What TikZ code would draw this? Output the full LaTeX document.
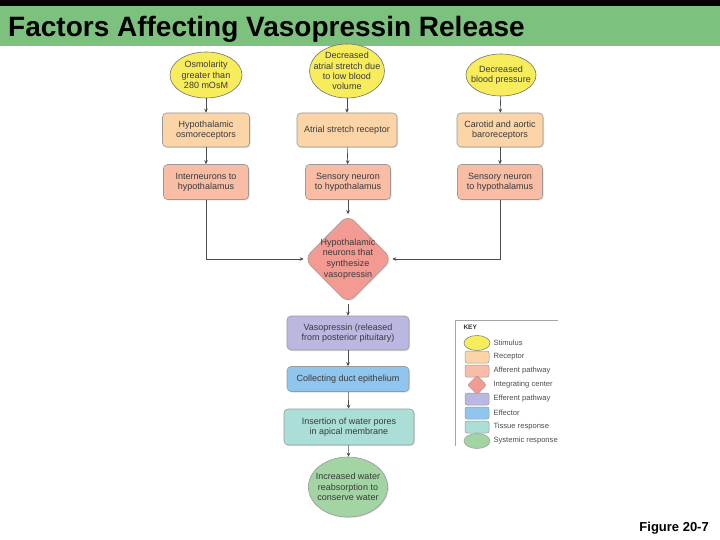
\documentclass[tikz,border=0pt]{standalone}
\usepackage{fontspec}
\setmainfont{Liberation Sans}
\usetikzlibrary{positioning,shapes.geometric,shadows,arrows.meta}

\definecolor{titlegreen}{HTML}{7DC17E}
\definecolor{stimcol}{HTML}{F6EC5C}
\definecolor{reccol}{HTML}{FBD5A8}
\definecolor{affcol}{HTML}{F8BDA4}
\definecolor{intcol}{HTML}{F39A93}
\definecolor{effpcol}{HTML}{BAB8E0}
\definecolor{effcol}{HTML}{90C5EE}
\definecolor{tisscol}{HTML}{AADED6}
\definecolor{syscol}{HTML}{A2D4A4}
\definecolor{txtcol}{HTML}{3A3A3A}

\begin{document}
\begin{tikzpicture}[x=1pt, y=-1pt, >={Stealth[length=4pt, width=3.6pt]},
    lbl/.style={font=\fontsize{9}{10.3}\selectfont, text=txtcol, align=center},
    stim/.style={ellipse, draw=black!55, line width=0.6pt, fill=stimcol, inner sep=0pt, lbl},
    box/.style={rectangle, rounded corners=4pt, draw=black!40, line width=0.6pt, inner sep=0pt, lbl,
        drop shadow={opacity=0.25, shadow xshift=1pt, shadow yshift=-1pt}},
    link/.style={->, draw=black!70, line width=0.6pt},
    keytxt/.style={anchor=west, font=\fontsize{7.6}{9}\selectfont, text=black!70},
    keyicon/.style={draw=black!40, line width=0.5pt, rounded corners=2pt, minimum width=24pt, minimum height=12pt, inner sep=0pt}]
    \useasboundingbox (0,0) rectangle (720,540);

    % Title bar
    \fill[black] (0,0) rectangle (720,6);
    \fill[titlegreen] (0,6) rectangle (720,46);
    \node[anchor=base west, inner sep=0pt, font=\bfseries\fontsize{28}{30}\selectfont] (title) at (8,37) {Factors Affecting Vasopressin Release};

    % Stimuli
    \node[stim, minimum width=72pt, minimum height=46pt, inner xsep=-3pt, inner ysep=-2pt] (s1) at (206,75) {Osmolarity\\greater than\\280 mOsM};
    \node[stim, minimum width=75pt, minimum height=54pt, inner xsep=-9pt, inner ysep=-5pt] (s2) at (347,71) {Decreased\\atrial stretch due\\to low blood\\volume};
    \node[stim, minimum width=64pt, minimum height=42pt, inner xsep=-5pt, inner ysep=-2pt] (s3) at (501,75) {Decreased\\blood pressure};

    % Receptors
    \node[box, fill=reccol, minimum width=87pt, minimum height=34pt] (r1) at (206,130) {Hypothalamic\\osmoreceptors};
    \node[box, fill=reccol, minimum width=100pt, minimum height=34pt] (r2) at (347,130) {Atrial stretch receptor};
    \node[box, fill=reccol, minimum width=86pt, minimum height=34pt] (r3) at (500,130) {Carotid and aortic\\baroreceptors};

    % Afferent pathways
    \node[box, fill=affcol, minimum width=85pt, minimum height=35pt] (a1) at (206,182) {Interneurons to\\hypothalamus};
    \node[box, fill=affcol, minimum width=85pt, minimum height=35pt] (a2) at (348,182) {Sensory neuron\\to hypothalamus};
    \node[box, fill=affcol, minimum width=85pt, minimum height=35pt] (a3) at (500,182) {Sensory neuron\\to hypothalamus};

    % Integrating center
    \node[diamond, rounded corners=9pt, draw=black!40, line width=0.6pt, fill=intcol, inner sep=0pt,
        minimum width=88pt, minimum height=89pt,
        drop shadow={opacity=0.25, shadow xshift=1pt, shadow yshift=-1pt}] (hyp) at (348,259) {};
    \node[lbl, font=\fontsize{9}{10.7}\selectfont] (hyptext) at (hyp) {Hypothalamic\\neurons that\\synthesize\\vasopressin};

    % Efferent side
    \node[box, fill=effpcol, minimum width=122pt, minimum height=34pt] (vaso) at (348,333) {Vasopressin (released\\from posterior pituitary)};
    \node[box, fill=effcol, minimum width=122pt, minimum height=25pt] (duct) at (348,379) {Collecting duct epithelium};
    \node[box, fill=tisscol, minimum width=130pt, minimum height=36pt] (pores) at (349,427) {Insertion of water pores\\in apical membrane};
    \node[stim, fill=syscol, draw=black!40, minimum width=75pt, minimum height=60pt, inner xsep=-4pt,
        drop shadow={opacity=0.25, shadow xshift=1pt, shadow yshift=-1pt}] (water) at (348,487) {Increased water\\reabsorption to\\conserve water};

    % Connections
    \draw[link] (s1) -- (r1);
    \draw[link] (s2) -- (r2);
    \draw[link] (s3) -- (r3);
    \draw[link] (r1) -- (a1);
    \draw[link] (r2) -- (a2);
    \draw[link] (r3) -- (a3);
    \draw[link] (a1.south) |- (hyp.west);
    \draw[link] (a2) -- (hyp);
    \draw[link] (a3.south) |- (hyp.east);
    \draw[link] (hyp) -- (vaso);
    \draw[link] (vaso) -- (duct);
    \draw[link] (duct) -- (pores);
    \draw[link] (pores) -- (water);

    % Key
    \draw[black!35, line width=0.6pt] (558,320) -- (455,320) -- (455,446);
    \node[anchor=west, font=\bfseries\fontsize{6.5}{8}\selectfont, text=black!80] (key) at (460,327) {KEY};
    \node[keyicon, ellipse, draw=black!55, fill=stimcol, minimum width=26pt, minimum height=15pt] (k1) at (477,343) {};
    \node[keyicon, fill=reccol] (k2) at (477,357) {};
    \node[keyicon, fill=affcol] (k3) at (477,371) {};
    \node[keyicon, diamond, rounded corners=2pt, fill=intcol, minimum width=19pt, minimum height=19pt] (k4) at (477,385) {};
    \node[keyicon, fill=effpcol] (k5) at (477,399) {};
    \node[keyicon, fill=effcol] (k6) at (477,413) {};
    \node[keyicon, fill=tisscol] (k7) at (477,427) {};
    \node[keyicon, ellipse, fill=syscol, minimum width=26pt, minimum height=15pt] (k8) at (477,441) {};
    \node[keytxt] (t1) at (490,343) {Stimulus};
    \node[keytxt] (t2) at (490,357) {Receptor};
    \node[keytxt] (t3) at (490,371) {Afferent pathway};
    \node[keytxt] (t4) at (490,385) {Integrating center};
    \node[keytxt] (t5) at (490,399) {Efferent pathway};
    \node[keytxt] (t6) at (490,413) {Effector};
    \node[keytxt] (t7) at (490,427) {Tissue response};
    \node[keytxt] (t8) at (490,441) {Systemic response};

    % Figure number
    \node[anchor=base east, inner sep=0pt, font=\bfseries\fontsize{13}{15}\selectfont] (fig) at (709,531) {Figure 20-7};
\end{tikzpicture}
\end{document}
